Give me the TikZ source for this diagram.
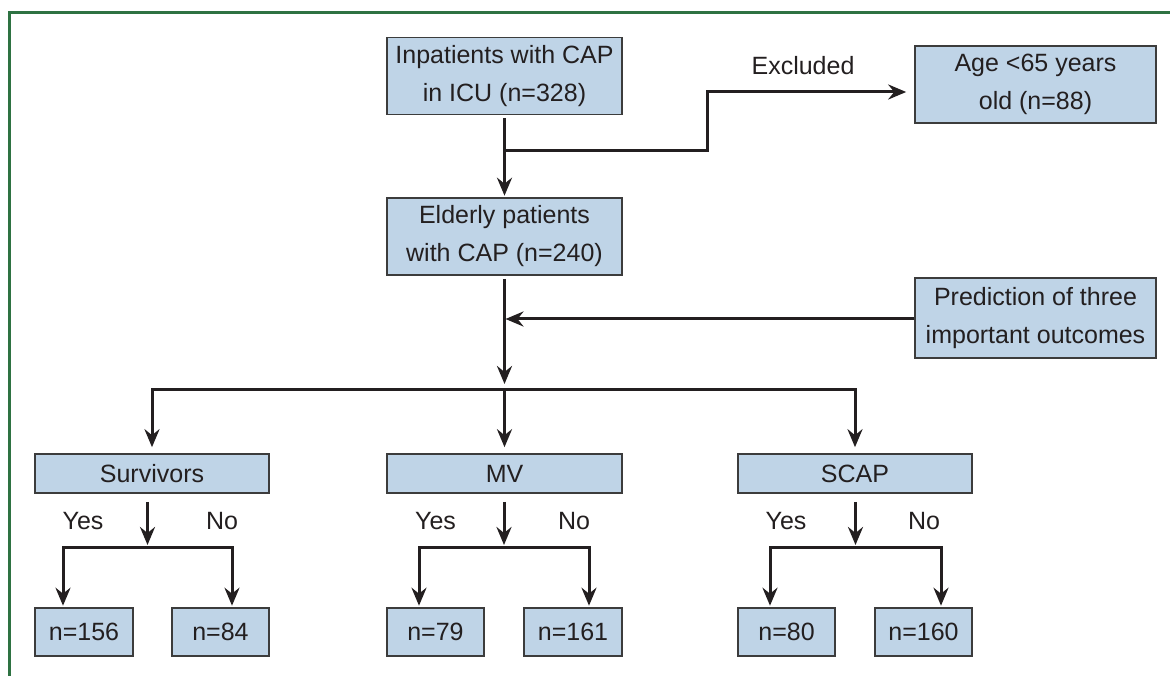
\documentclass[tikz,border=0pt]{standalone}
\usepackage{fontspec}
\setmainfont{Liberation Sans}
\usetikzlibrary{arrows.meta}
\definecolor{boxfill}{HTML}{BFD4E7}
\definecolor{boxline}{HTML}{3C3C3C}
\definecolor{linecol}{HTML}{231F20}
\definecolor{framegreen}{HTML}{2E7242}
\begin{document}
\begin{tikzpicture}[x=1pt,y=-1pt,
  box/.style={draw=boxline, line width=1.6pt, fill=boxfill, text=linecol, align=center, inner sep=0pt,
    font=\fontsize{25pt}{38pt}\selectfont},
  conn/.style={draw=linecol, line width=3pt},
  arr/.style={conn, -{Stealth[length=18pt,width=15pt,inset=6pt]}},
  lbl/.style={font=\fontsize{25pt}{38pt}\selectfont, text=linecol, inner sep=0pt, anchor=base}]
\useasboundingbox (0,0) rectangle (1170,676);
\draw[framegreen, line width=3.5pt] (1172,12.5) -- (9.5,12.5) -- (9.5,678);

% main boxes
\node[box, minimum width=235pt, minimum height=77pt] (inp) at (504.5,76) {Inpatients with CAP\\in ICU (n=328)};
\node[box, minimum width=235pt, minimum height=77pt] (eld) at (504.5,236.5) {Elderly patients\\with CAP (n=240)};
\node[box, minimum width=241pt, minimum height=77pt] (age) at (1035.5,84.5) {Age <65 years\\old (n=88)};
\node[box, minimum width=241pt, minimum height=80pt] (pred) at (1035.5,318) {Prediction of three\\important outcomes};

% outcome boxes
\node[box, minimum width=234pt, minimum height=39pt] (surv) at (152,473.5) {Survivors};
\node[box, minimum width=235pt, minimum height=39pt] (mv) at (504.5,473.5) {MV};
\node[box, minimum width=234pt, minimum height=39pt] (scap) at (855,473.5) {SCAP};

% leaf boxes
\node[box, minimum width=98pt, minimum height=48pt] (n156) at (84,632) {n=156};
\node[box, minimum width=97pt, minimum height=48pt] (n84) at (220.5,632) {n=84};
\node[box, minimum width=97pt, minimum height=48pt] (n79) at (435.5,632) {n=79};
\node[box, minimum width=98pt, minimum height=48pt] (n161) at (573,632) {n=161};
\node[box, minimum width=97pt, minimum height=48pt] (n80) at (786.5,632) {n=80};
\node[box, minimum width=97pt, minimum height=48pt] (n160) at (923.5,632) {n=160};

% labels
\node[lbl] (exl) at (803,75) {Excluded};
\node[lbl] (y1) at (83,529) {Yes};
\node[lbl] (no1) at (222,529) {No};
\node[lbl] (y2) at (435.5,529) {Yes};
\node[lbl] (no2) at (574,529) {No};
\node[lbl] (y3) at (786,529) {Yes};
\node[lbl] (no3) at (924,529) {No};

% coordinates
\coordinate (ex1) at (504.5,151);
\coordinate (bend) at (707,92);
\coordinate (mtip) at (504.5,384);
\coordinate (split) at (504.5,389);
\coordinate (sj1) at (147.5,547);
\coordinate (sj2) at (504,547);
\coordinate (sj3) at (855.5,547);

% top connectors
\draw[arr, shorten <=3pt, shorten >=1.5pt] (inp.south) -- (eld.north);
\draw[arr, shorten >=8pt] (ex1) -| (bend) -- (bend -| age.west);
\draw[arr, shorten <=3pt] (eld.south) -- (mtip);
\draw[arr, shorten >=1pt] (pred.west |- 0,319) -- (504.5,319);

% split to outcomes
\draw[arr, shorten >=6pt] (split) -| (surv.north);
\draw[arr, shorten >=6pt] (split) -| (scap.north);
\draw[arr, shorten >=6pt] (split) -- (mv.north);

% sub branches
\draw[arr, shorten <=8pt, shorten >=2pt] (surv.south -| sj1) -- (sj1);
\draw[arr, shorten >=1.5pt] (sj1) -| ([xshift=-21pt]n156.north);
\draw[arr, shorten >=1.5pt] (sj1) -| ([xshift=11.5pt]n84.north);

\draw[arr, shorten <=8pt, shorten >=2pt] (mv.south -| sj2) -- (sj2);
\draw[arr, shorten >=1.5pt] (sj2) -| ([xshift=-16.5pt]n79.north);
\draw[arr, shorten >=1.5pt] (sj2) -| ([xshift=16pt]n161.north);

\draw[arr, shorten <=8pt, shorten >=2pt] (scap.south -| sj3) -- (sj3);
\draw[arr, shorten >=1.5pt] (sj3) -| ([xshift=-16.5pt]n80.north);
\draw[arr, shorten >=1.5pt] (sj3) -| ([xshift=17.5pt]n160.north);
\end{tikzpicture}
\end{document}
